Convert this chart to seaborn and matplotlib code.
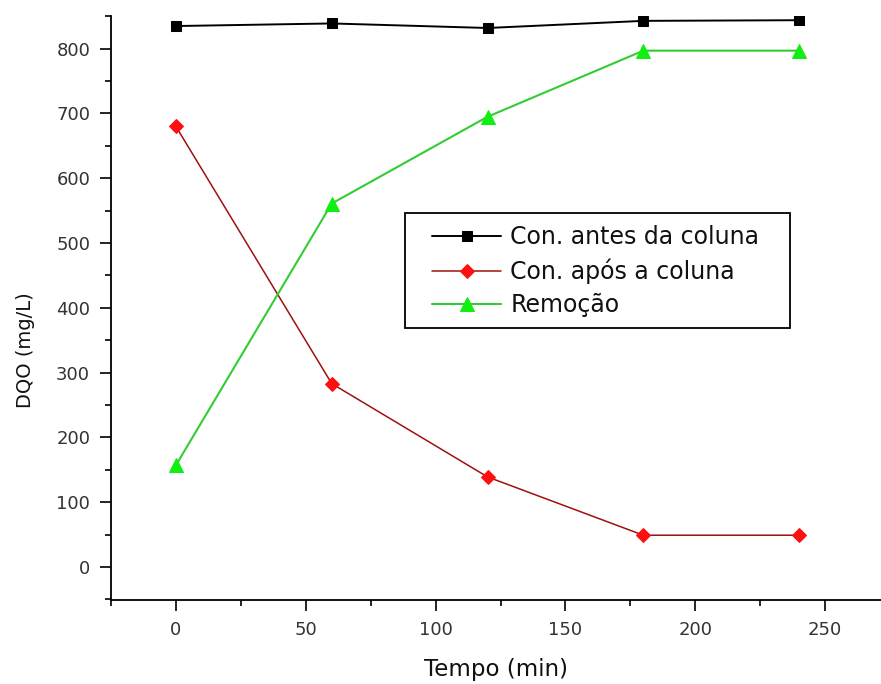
import matplotlib
matplotlib.use("Agg")
import matplotlib.pyplot as plt
from matplotlib.ticker import MultipleLocator
from matplotlib.legend_handler import HandlerLine2D
from matplotlib.patches import Rectangle
from matplotlib.transforms import IdentityTransform
import seaborn as sns
import pandas as pd

# Data: DQO over time
tempo = [0, 60, 120, 180, 240]
con_antes = [835, 839, 832, 843, 844]
con_apos = [680, 283, 139, 49, 49]
remocao = [157, 561, 695, 797, 797]

labels = ["Con. antes da coluna", "Con. após a coluna", "Remoção"]

sns.set_theme(style="white")
plt.rcParams["font.family"] = ["DejaVu Sans"]

fig = plt.figure(figsize=(8.81, 6.84), dpi=100)
ax = fig.add_axes([111 / 881, 84 / 684, 770 / 881, 584 / 684])

df = pd.DataFrame({"tempo": tempo, "antes": con_antes, "apos": con_apos, "rem": remocao})

sns.lineplot(data=df, x="tempo", y="antes", ax=ax, color="black", lw=1.4,
             marker="s", markersize=7, markerfacecolor="black",
             markeredgecolor="black", label=labels[0])
sns.lineplot(data=df, x="tempo", y="apos", ax=ax, color="#a01010", lw=1.1,
             marker="D", markersize=7, markerfacecolor="#ff1010",
             markeredgecolor="#ff1010", label=labels[1])
sns.lineplot(data=df, x="tempo", y="rem", ax=ax, color="#33cc33", lw=1.5,
             marker="^", markersize=10, markerfacecolor="#11ee11",
             markeredgecolor="#11ee11", label=labels[2])

ax.set_xlim(-25, 271.5)
ax.set_ylim(-51, 850.5)
ax.xaxis.set_major_locator(MultipleLocator(50))
ax.xaxis.set_minor_locator(MultipleLocator(25))
ax.yaxis.set_major_locator(MultipleLocator(100))
ax.yaxis.set_minor_locator(MultipleLocator(50))

for side in ("top", "right"):
    ax.spines[side].set_visible(False)
for side in ("left", "bottom"):
    ax.spines[side].set_linewidth(1.3)
    ax.spines[side].set_color("black")

ax.tick_params(which="major", direction="out", length=8, width=1.2,
               color="black", labelsize=13, labelcolor="#333333", pad=7,
               bottom=True, left=True)
ax.tick_params(which="minor", direction="out", length=4, width=1.2,
               color="black", bottom=True, left=True)

ax.set_xlabel("Tempo (min)", fontsize=16.5, color="#111111", labelpad=14)
ax.set_ylabel("DQO (mg/L)", fontsize=14, color="#111111")
ax.yaxis.set_label_coords(-0.099, 0.428)


class InsetLine(HandlerLine2D):
    """Legend line handle that starts a bit to the right of its box."""

    def __init__(self, inset=1.0, **kw):
        super().__init__(**kw)
        self.inset = inset

    def create_artists(self, legend, orig_handle, xdescent, ydescent,
                       width, height, fontsize, trans):
        shift = self.inset * fontsize
        return super().create_artists(legend, orig_handle, xdescent - shift,
                                      ydescent, width - shift, height,
                                      fontsize, trans)


handles, hl = ax.get_legend_handles_labels()
leg = ax.legend(handles, hl, loc="upper left",
                bbox_to_anchor=(390 / 881, 1 - 206 / 684),
                bbox_transform=fig.transFigure,
                frameon=False, fontsize=17, handlelength=3.9,
                handletextpad=0.4, borderpad=0.3, labelspacing=0.4,
                handler_map={h: InsetLine(inset=1.0) for h in handles})
for t in leg.get_texts():
    t.set_color("#111111")

# Frame around the legend, wider than the default padding
fig.canvas.draw()
bb = leg.get_window_extent()
fig.add_artist(Rectangle((bb.x0 + 3, bb.y0 - 4), bb.width + 20, bb.height + 9,
                         transform=IdentityTransform(), fill=False,
                         edgecolor="black", lw=1.3))

fig.savefig("out.png", dpi=100)
